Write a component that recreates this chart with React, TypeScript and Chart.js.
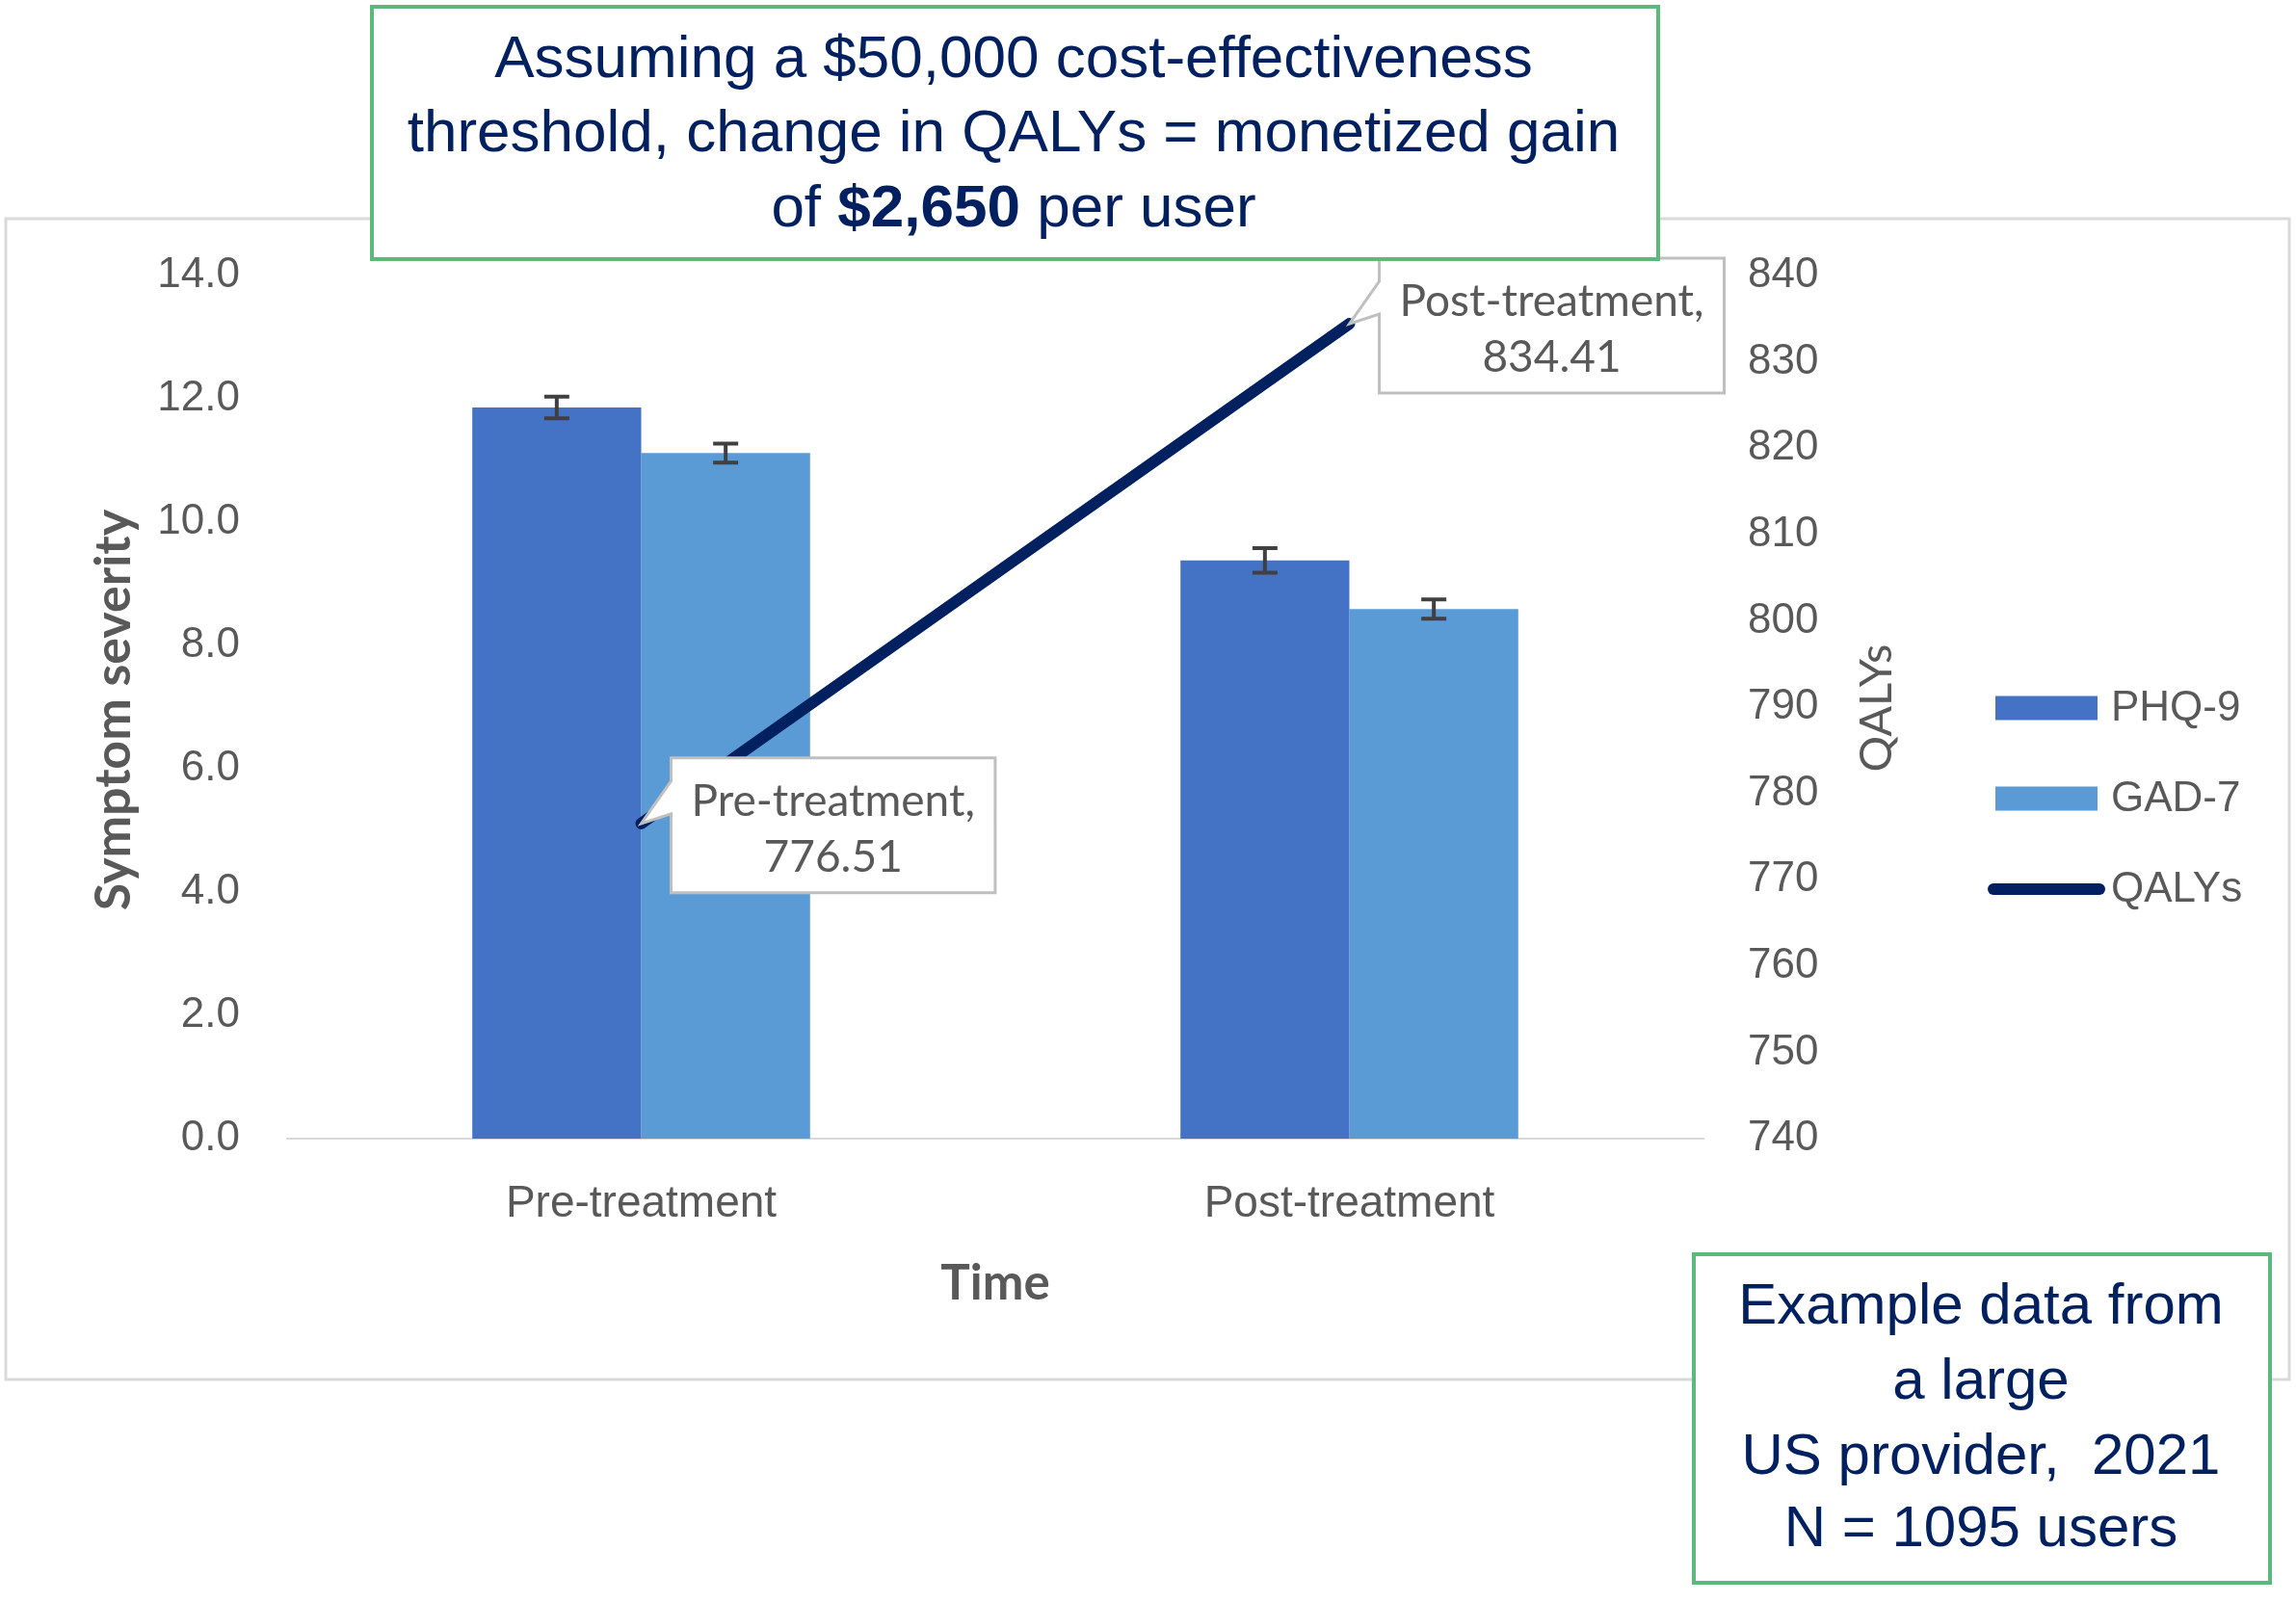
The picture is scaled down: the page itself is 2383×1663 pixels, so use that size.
import React, { useEffect, useRef } from "react";
import { Chart, registerables } from "chart.js";

Chart.register(...registerables);

// ---------- data ----------
const categories = ["Pre-treatment", "Post-treatment"];
const phq9 = [11.86, 9.38];
const phq9Err = [0.175, 0.2];
const gad7 = [11.12, 8.59];
const gad7Err = [0.155, 0.155];
const qalys = [776.51, 834.41];

const leftMin = 0;
const leftMax = 14;
const leftStep = 2;
const rightMin = 740;
const rightMax = 840;
const rightStep = 10;

const leftTitle = "Symptom severity";
const rightTitle = "QALYs";
const xTitle = "Time";

const topNoteLines = [
  "Assuming a $50,000 cost-effectiveness",
  "threshold, change in QALYs = monetized gain",
];
const topNoteLast: [string, boolean][] = [
  ["of ", false],
  ["$2,650", true],
  [" per user", false],
];
const bottomNoteLines = ["Example data from", "a large", "US provider,  2021", "N = 1095 users"];

// ---------- styling ----------
const W = 2383;
const H = 1663;
const AREA = { left: 298, right: 1768, top: 286, bottom: 1182 };
const GREY = "#595959";
const NAVY = "#002060";
const GREEN = "#5DB97B";
const TICK_FONT = "Liberation Sans";
const CAL_FONT = "Lato";

const errorsByDataset: (number[] | null)[] = [null, phq9Err, gad7Err];

const framePlugin = {
  id: "frame",
  beforeDraw(chart: any) {
    const ctx = chart.ctx;
    ctx.save();
    ctx.fillStyle = "#ffffff";
    ctx.fillRect(0, 0, W, H);
    ctx.strokeStyle = "#D9D9D9";
    ctx.lineWidth = 3;
    ctx.strokeRect(6, 227, 2370, 1205);
    ctx.restore();
  },
};

const errorBarPlugin = {
  id: "errorBars",
  afterDatasetDraw(chart: any, args: any) {
    const errs = errorsByDataset[args.index];
    if (!errs) return;
    const ds = chart.data.datasets[args.index];
    const meta = args.meta;
    const yScale = chart.scales[meta.yAxisID];
    const ctx = chart.ctx;
    ctx.save();
    ctx.strokeStyle = "#404040";
    ctx.lineWidth = 4;
    meta.data.forEach((el: any, i: number) => {
      const v = ds.data[i];
      const e = errs[i];
      const x = el.x;
      const yT = yScale.getPixelForValue(v + e);
      const yB = yScale.getPixelForValue(v - e);
      ctx.beginPath();
      ctx.moveTo(x, yT);
      ctx.lineTo(x, yB);
      ctx.moveTo(x - 13, yT);
      ctx.lineTo(x + 13, yT);
      ctx.moveTo(x - 13, yB);
      ctx.lineTo(x + 13, yB);
      ctx.stroke();
    });
    ctx.restore();
  },
};

const overlayPlugin = {
  id: "overlay",
  afterDraw(chart: any) {
    const ctx = chart.ctx;
    ctx.save();

    // axis titles
    ctx.fillStyle = GREY;
    ctx.textAlign = "center";
    ctx.textBaseline = "middle";
    ctx.save();
    ctx.translate(118, 737);
    ctx.rotate(-Math.PI / 2);
    ctx.font = `bold 52px ${CAL_FONT}`;
    ctx.fillText(leftTitle, 0, 0);
    ctx.restore();
    ctx.save();
    ctx.translate(1948, 735);
    ctx.rotate(-Math.PI / 2);
    ctx.font = `47px ${CAL_FONT}`;
    ctx.fillText(rightTitle, 0, 0);
    ctx.restore();
    ctx.font = `bold 51px ${CAL_FONT}`;
    ctx.fillText(xTitle, 1033, 1333);

    // legend
    const legendY = [735, 829, 923];
    chart.data.datasets
      .map((d: any, i: number) => ({ d, i }))
      .sort((a: any, b: any) => (a.d.type === "line" ? 1 : 0) - (b.d.type === "line" ? 1 : 0))
      .forEach((item: any, k: number) => {
        const d = item.d;
        const y = legendY[k];
        if (d.type === "line") {
          ctx.strokeStyle = d.borderColor;
          ctx.lineWidth = 12;
          ctx.lineCap = "round";
          ctx.beginPath();
          ctx.moveTo(2069, y);
          ctx.lineTo(2179, y);
          ctx.stroke();
        } else {
          ctx.fillStyle = d.backgroundColor;
          ctx.fillRect(2071, y - 12.5, 106, 25);
        }
        ctx.fillStyle = GREY;
        ctx.font = `44px ${TICK_FONT}`;
        ctx.textAlign = "left";
        ctx.textBaseline = "middle";
        ctx.fillText(d.label, 2191, y + 1);
      });

    // callouts on the QALY line
    const lineMeta = chart.getDatasetMeta(0);
    ctx.font = `46px ${CAL_FONT}`;
    lineMeta.data.forEach((pt: any, i: number) => {
      const px = pt.x;
      const py = pt.y;
      const l1 = `${categories[i]},`;
      const l2 = qalys[i].toFixed(2);
      const tw = Math.max(ctx.measureText(l1).width, ctx.measureText(l2).width);
      const w = tw + 42;
      const h = 140;
      const left = px + 31;
      const top = py - 68;
      ctx.beginPath();
      ctx.moveTo(left, top);
      ctx.lineTo(left + w, top);
      ctx.lineTo(left + w, top + h);
      ctx.lineTo(left, top + h);
      ctx.lineTo(left, top + 58);
      ctx.lineTo(px, py);
      ctx.lineTo(left, top + 24);
      ctx.closePath();
      ctx.fillStyle = "#ffffff";
      ctx.fill();
      ctx.strokeStyle = "#BFBFBF";
      ctx.lineWidth = 3;
      ctx.lineJoin = "miter";
      ctx.lineCap = "butt";
      ctx.stroke();
      ctx.fillStyle = GREY;
      ctx.textAlign = "center";
      ctx.textBaseline = "middle";
      ctx.fillText(l1, left + w / 2, top + 45);
      ctx.fillText(l2, left + w / 2, top + 103);
    });

    // green note boxes
    ctx.fillStyle = "#ffffff";
    ctx.fillRect(386, 7, 1335, 262);
    ctx.strokeStyle = GREEN;
    ctx.lineWidth = 4;
    ctx.strokeRect(386, 7, 1335, 262);
    ctx.fillStyle = NAVY;
    ctx.textAlign = "center";
    ctx.textBaseline = "middle";
    ctx.font = `62px Liberation Sans`;
    const topCx = 1052;
    const topYs = [63, 140, 218];
    topNoteLines.forEach((t, k) => ctx.fillText(t, topCx, topYs[k]));
    // mixed-weight last line
    let total = 0;
    const widths = topNoteLast.map(([t, b]) => {
      ctx.font = `${b ? "bold " : ""}62px Liberation Sans`;
      const wd = ctx.measureText(t).width;
      total += wd;
      return wd;
    });
    let x = topCx - total / 2;
    ctx.textAlign = "left";
    topNoteLast.forEach(([t, b], k) => {
      ctx.font = `${b ? "bold " : ""}62px Liberation Sans`;
      ctx.fillText(t, x, topYs[2]);
      x += widths[k];
    });

    ctx.fillStyle = "#ffffff";
    ctx.fillRect(1758, 1302, 598, 341);
    ctx.strokeStyle = GREEN;
    ctx.lineWidth = 4;
    ctx.strokeRect(1758, 1302, 598, 341);
    ctx.fillStyle = NAVY;
    ctx.textAlign = "center";
    ctx.font = `60px Liberation Sans`;
    const botYs = [1357, 1435, 1513, 1588];
    bottomNoteLines.forEach((t, k) => ctx.fillText(t, 2056, botYs[k]));

    ctx.restore();
  },
};

export default function App() {
  const ref = useRef<HTMLCanvasElement | null>(null);

  useEffect(() => {
    document.body.style.margin = "0";
    document.body.style.overflow = "hidden";
    const canvas = ref.current;
    if (!canvas) return;
    const chart = new Chart(canvas, {
      type: "bar",
      data: {
        labels: categories,
        datasets: [
          {
            type: "line",
            label: "QALYs",
            data: qalys,
            yAxisID: "y1",
            borderColor: NAVY,
            backgroundColor: NAVY,
            borderWidth: 12,
            borderCapStyle: "round",
            pointRadius: 0,
            order: 0,
          } as any,
          {
            type: "bar",
            label: "PHQ-9",
            data: phq9,
            yAxisID: "y",
            backgroundColor: "#4472C4",
            borderWidth: 0,
            categoryPercentage: 0.477,
            barPercentage: 1.0,
            order: 1,
          },
          {
            type: "bar",
            label: "GAD-7",
            data: gad7,
            yAxisID: "y",
            backgroundColor: "#5B9BD5",
            borderWidth: 0,
            categoryPercentage: 0.477,
            barPercentage: 1.0,
            order: 1,
          },
        ],
      },
      options: {
        animation: false,
        responsive: false,
        devicePixelRatio: 1,
        layout: { padding: { left: 0, right: 0, top: AREA.top, bottom: 0 } },
        plugins: {
          legend: { display: false },
          tooltip: { enabled: false },
        },
        scales: {
          x: {
            type: "category",
            grid: { display: false, drawTicks: false },
            border: { display: true, color: "#D9D9D9", width: 2 },
            ticks: {
              color: GREY,
              font: { family: TICK_FONT, size: 46 },
              padding: 41,
              maxRotation: 0,
            },
            afterFit(s: any) {
              s.height = H - AREA.bottom;
              s.paddingLeft = 0;
              s.paddingRight = 0;
            },
          },
          y: {
            type: "linear",
            position: "left",
            min: leftMin,
            max: leftMax,
            grid: { display: false, drawTicks: false },
            border: { display: false },
            ticks: {
              stepSize: leftStep,
              color: GREY,
              font: { family: TICK_FONT, size: 44 },
              padding: 49,
              callback: (v: any) => Number(v).toFixed(1),
            },
            afterFit(s: any) {
              s.width = AREA.left;
              s.paddingTop = 0;
              s.paddingBottom = 0;
            },
          },
          y1: {
            type: "linear",
            position: "right",
            min: rightMin,
            max: rightMax,
            grid: { display: false, drawTicks: false },
            border: { display: false },
            ticks: {
              stepSize: rightStep,
              color: GREY,
              font: { family: TICK_FONT, size: 44 },
              padding: 46,
            },
            afterFit(s: any) {
              s.width = W - AREA.right;
              s.paddingTop = 0;
              s.paddingBottom = 0;
            },
          },
        },
      } as any,
      plugins: [framePlugin, errorBarPlugin, overlayPlugin],
    });
    return () => chart.destroy();
  }, []);

  return (
    <div style={{ width: W, height: H, position: "relative", overflow: "hidden" }}>
      <canvas ref={ref} width={W} height={H} style={{ display: "block" }} />
    </div>
  );
}
